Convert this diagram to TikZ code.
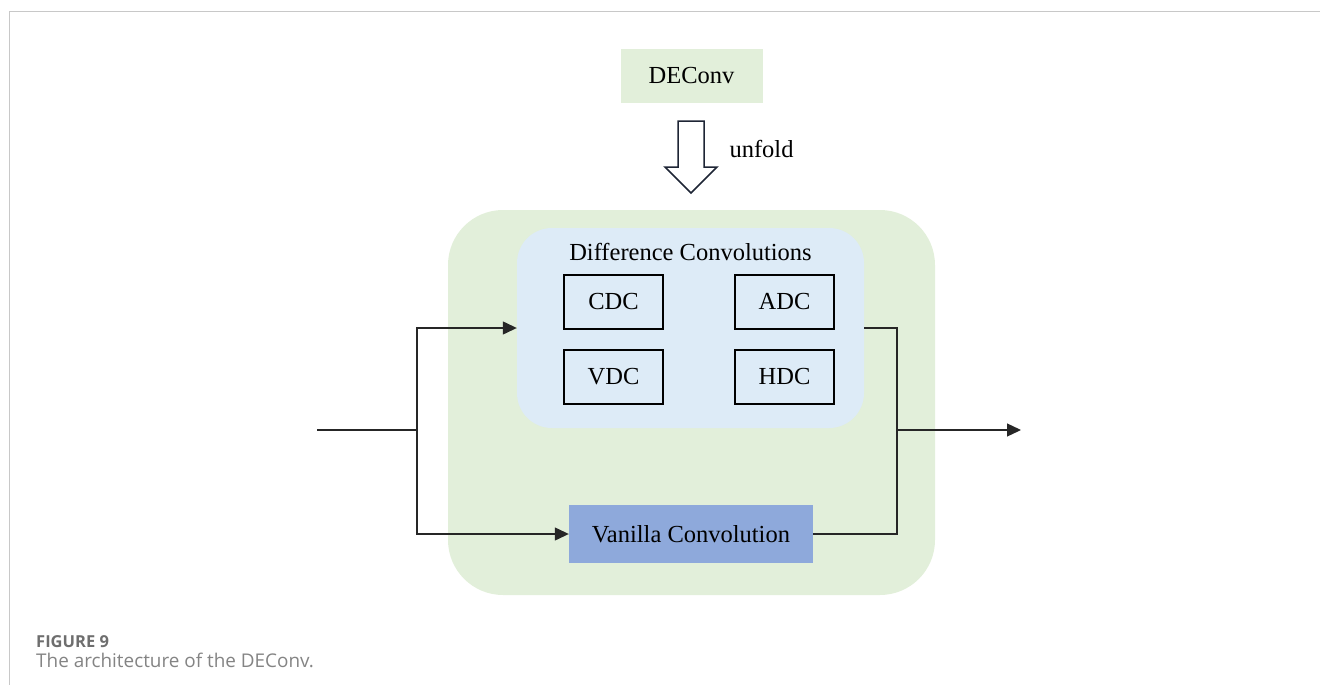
\documentclass[tikz,border=0pt]{standalone}
\usepackage{fontspec}
\setmainfont{Liberation Serif}
\newfontfamily\capfont{Open Sans}
\usetikzlibrary{arrows.meta}
\definecolor{biggreen}{HTML}{E2EFDA}
\definecolor{lightblue}{HTML}{DDEBF7}
\definecolor{vanblue}{HTML}{8EA9DB}
\definecolor{framegray}{HTML}{C8C8C8}
\definecolor{capgray}{HTML}{6E6E6E}
\definecolor{arrowdark}{HTML}{1E2535}
\tikzset{
  lbl/.style={font=\fontsize{24.5}{28}\selectfont, text=black},
  subbox/.style={draw=black, line width=1.8pt, fill=lightblue, minimum width=99pt, minimum height=54pt, inner sep=0pt, lbl},
  conn/.style={draw=black!85, line width=1.3pt},
  arr/.style={conn, -{Triangle[length=14pt,width=13pt]}},
}
\begin{document}
\begin{tikzpicture}[x=1pt,y=-1pt]
\useasboundingbox (0,0) rectangle (1320,685);
% frame
\draw[framegray, line width=1.2pt] (1320,11.5) -- (9.5,11.5) -- (9.5,685);
% big green container
\node[fill=biggreen, rounded corners=55pt, minimum width=487pt, minimum height=385pt, inner sep=0pt] (big) at (691.5,402.5) {};
% difference convolutions container
\node[fill=lightblue, rounded corners=35pt, minimum width=347pt, minimum height=200pt, inner sep=0pt] (diff) at (690.5,328) {};
\node[lbl] (difftitle) at (690.5,252) {Difference Convolutions};
% sub boxes
\node[subbox] (cdc) at (613.5,302) {CDC};
\node[subbox] (adc) at (784.5,302) {ADC};
\node[subbox] (vdc) at (613.5,377) {VDC};
\node[subbox] (hdc) at (784.5,377) {HDC};
% vanilla
\node[fill=vanblue, minimum width=244pt, minimum height=58pt, inner sep=0pt, lbl] (van) at (691,534) {Vanilla Convolution};
% DEConv
\node[fill=biggreen, minimum width=142pt, minimum height=53pt, inner sep=0pt, lbl] (deconv) at (691.5,76) {DEConv};
% hollow unfold arrow
\draw[arrowdark, line width=1.5pt, line join=miter, fill=white]
  (678,121) -- (704,121) -- (704,167) -- (717,167) -- (691,193) -- (665,167) -- (678,167) -- cycle;
\node[lbl, anchor=west] (unfold) at (726,149) {unfold};
% connectors
\coordinate (in) at (317,430);
\coordinate (split) at (417,430);
\coordinate (merge) at (897,430);
\coordinate (out) at (1021,430);
\draw[conn] (in) -- (split);
\draw[arr] (split) |- (diff.west);
\draw[arr] (split) |- (van.west);
\draw[conn] (diff.east) -| (merge);
\draw[conn] (van.east) -| (merge);
\draw[arr] (merge) -- (out);
% caption
\node[anchor=base west, inner sep=0pt, text=capgray, font=\capfont\bfseries\fontsize{16.5}{18}\selectfont] (figlabel) at (36,647) {FIGURE 9};
\node[anchor=base west, inner sep=0pt, text=capgray!85, font=\capfont\fontsize{18.9}{21}\selectfont] (caption) at (36,667) {The architecture of the DEConv.};
\end{tikzpicture}
\end{document}
